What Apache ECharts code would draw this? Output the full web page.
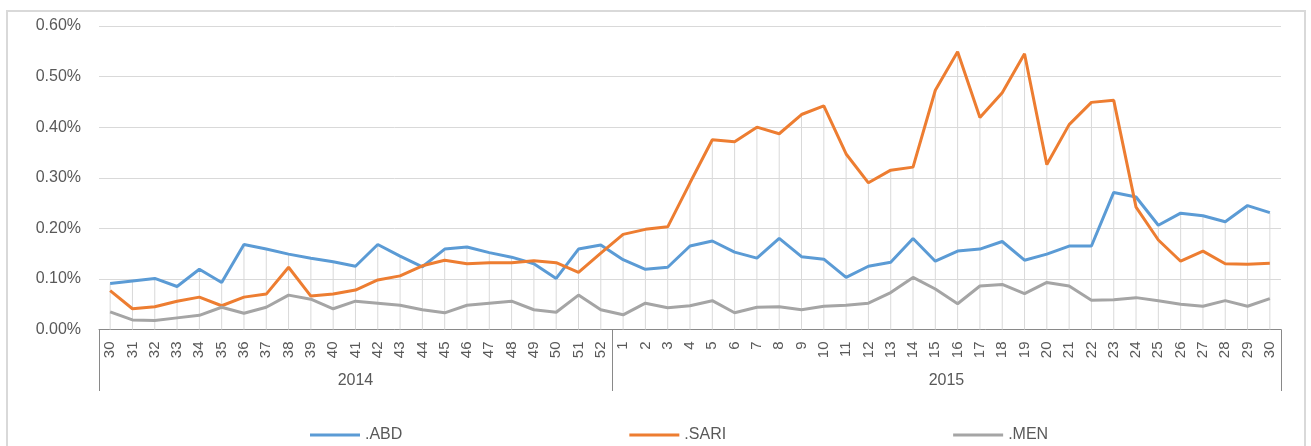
<!DOCTYPE html>
<html>
<head>
<meta charset="utf-8">
<script src="https://cdn.jsdelivr.net/npm/echarts@6/dist/echarts.min.js"></script>
<style>
html,body{margin:0;padding:0;background:#fff;}
#chart{width:1311px;height:446px;}
</style>
</head>
<body>
<div id="chart"></div>
<script>
// Tick labels
var weeks2014 = ['30','31','32','33','34','35','36','37','38','39','40','41','42','43','44','45','46','47','48','49','50','51','52'];
var weeks2015 = ['1','2','3','4','5','6','7','8','9','10','11','12','13','14','15','16','17','18','19','20','21','22','23','24','25','26','27','28','29','30'];
var years = ['2014','2015'];
var seriesNames = ['.ABD','.SARI','.MEN'];

// Values in percent
var abd = [0.091,0.096,0.101,0.085,0.119,0.093,0.168,0.159,0.149,0.141,0.134,0.125,0.168,0.145,0.124,0.159,0.163,0.152,0.143,0.130,0.101,0.159,0.167,
           0.138,0.119,0.123,0.165,0.175,0.153,0.141,0.180,0.144,0.139,0.103,0.125,0.133,0.180,0.135,0.155,0.159,0.174,0.137,0.149,0.165,0.165,0.271,0.262,0.206,0.230,0.225,0.213,0.245,0.231];
var sari = [0.077,0.041,0.045,0.056,0.064,0.047,0.064,0.070,0.123,0.066,0.070,0.078,0.098,0.106,0.126,0.137,0.130,0.132,0.132,0.136,0.132,0.113,0.151,
            0.188,0.198,0.203,0.290,0.375,0.371,0.400,0.387,0.425,0.442,0.347,0.290,0.315,0.321,0.473,0.549,0.419,0.468,0.545,0.326,0.405,0.449,0.453,0.242,0.177,0.135,0.155,0.130,0.129,0.131];
var men = [0.035,0.019,0.018,0.023,0.028,0.044,0.032,0.044,0.068,0.060,0.041,0.056,0.052,0.048,0.039,0.033,0.048,0.052,0.056,0.039,0.034,0.068,0.039,
           0.029,0.052,0.043,0.047,0.057,0.033,0.044,0.045,0.039,0.046,0.048,0.052,0.073,0.103,0.080,0.051,0.086,0.089,0.071,0.093,0.086,0.058,0.059,0.063,0.057,0.050,0.046,0.057,0.046,0.061];

var categories = weeks2014.concat(weeks2015);
var n = categories.length;
var groupEdges = [0, weeks2014.length, n];
var groupCenters = [weeks2014.length / 2, weeks2014.length + weeks2015.length / 2];
var dropLines = categories.map(function (c, i) { return Math.max(abd[i], sari[i], men[i]); });

var FONT = 'Liberation Sans';
var TXT = '#595959';

var chart = echarts.init(document.getElementById('chart'), null, {renderer: 'canvas'});
chart.setOption({
  backgroundColor: '#ffffff',
  animation: false,
  textStyle: {fontFamily: FONT},
  graphic: [{
    type: 'rect', silent: true, z: -10,
    shape: {x: 7, y: 11, width: 1298, height: 445},
    style: {fill: 'none', stroke: '#d9d9d9', lineWidth: 2}
  }],
  legend: {
    data: seriesNames,
    left: 305, top: 422,
    icon: 'rect', itemWidth: 50, itemHeight: 3, itemGap: 227,
    textStyle: {fontSize: 16, color: TXT, fontFamily: FONT}
  },
  grid: {left: 99, right: 30, top: 26, bottom: 116.5, containLabel: false},
  xAxis: [{
    type: 'category',
    data: categories,
    boundaryGap: true,
    axisLine: {show: true, lineStyle: {color: '#898989', width: 1}},
    axisTick: {show: false},
    axisLabel: {interval: 0, rotate: 90, margin: 12, fontSize: 15, color: TXT, fontFamily: FONT},
    splitLine: {show: false}
  }, {
    type: 'value',
    position: 'bottom',
    min: 0, max: n,
    axisLine: {show: false},
    axisTick: {show: true, customValues: groupEdges, length: 61.5, lineStyle: {color: '#898989', width: 1}},
    axisLabel: {
      customValues: groupCenters, margin: 43, fontSize: 16, color: TXT, fontFamily: FONT,
      formatter: function (v) { return v < weeks2014.length ? years[0] : years[1]; }
    },
    splitLine: {show: false}
  }],
  yAxis: {
    type: 'value', min: 0, max: 0.6, interval: 0.1,
    axisLine: {show: false}, axisTick: {show: false},
    axisLabel: {margin: 18, fontSize: 16, color: TXT, fontFamily: FONT,
      formatter: function (v) { return v.toFixed(2) + '%'; }},
    splitLine: {lineStyle: {color: '#d9d9d9', width: 1}}
  },
  series: [{
    name: 'drop', type: 'bar', xAxisIndex: 0, data: dropLines, barWidth: 1, silent: true, z: 1,
    itemStyle: {color: '#d9d9d9'}
  }, {
    name: seriesNames[0], type: 'line', xAxisIndex: 0, data: abd, showSymbol: false, symbol: 'none', z: 3,
    lineStyle: {color: '#5B9BD5', width: 3}, itemStyle: {color: '#5B9BD5'}
  }, {
    name: seriesNames[1], type: 'line', xAxisIndex: 0, data: sari, showSymbol: false, symbol: 'none', z: 3,
    lineStyle: {color: '#ED7D31', width: 3}, itemStyle: {color: '#ED7D31'}
  }, {
    name: seriesNames[2], type: 'line', xAxisIndex: 0, data: men, showSymbol: false, symbol: 'none', z: 3,
    lineStyle: {color: '#A5A5A5', width: 3}, itemStyle: {color: '#A5A5A5'}
  }]
});
</script>
</body>
</html>
